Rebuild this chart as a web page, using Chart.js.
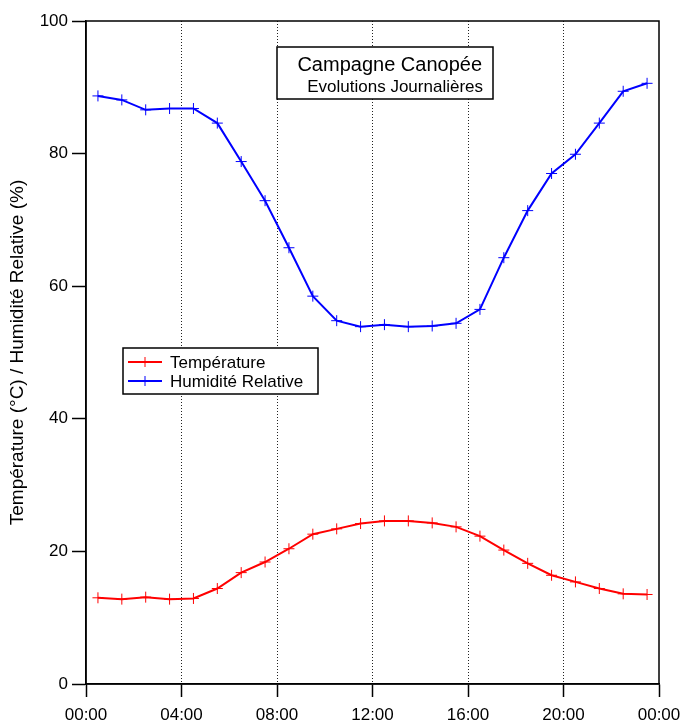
<!DOCTYPE html>
<html>
<head>
<meta charset="utf-8">
<script src="https://cdn.jsdelivr.net/npm/chart.js@4"></script>
<style>
  html, body { margin: 0; padding: 0; background: #fff; }
  #wrap { width: 682px; height: 722px; }
</style>
</head>
<body>
<div id="wrap"><canvas id="chart" width="682" height="722"></canvas></div>
<script>
// ---- data ----
const hours = [0.5, 1.5, 2.5, 3.5, 4.5, 5.5, 6.5, 7.5, 8.5, 9.5, 10.5, 11.5,
               12.5, 13.5, 14.5, 15.5, 16.5, 17.5, 18.5, 19.5, 20.5, 21.5, 22.5, 23.5];
const temperature = [13.0, 12.8, 13.1, 12.8, 12.9, 14.4, 16.8, 18.4, 20.4, 22.6, 23.4, 24.2,
                     24.6, 24.6, 24.3, 23.7, 22.3, 20.2, 18.2, 16.4, 15.4, 14.4, 13.6, 13.5];
const humidity = [88.7, 88.1, 86.6, 86.8, 86.8, 84.6, 78.8, 72.9, 65.8, 58.5, 54.8, 53.9,
                  54.2, 53.9, 54.0, 54.4, 56.5, 64.3, 71.4, 77.0, 79.9, 84.6, 89.4, 90.6];
const seriesLabels = ['Température', 'Humidité Relative'];
const seriesColors = ['#ff0000', '#0000ff'];
const titleLines = ['Campagne Canopée', 'Evolutions Journalières'];
const yAxisTitle = 'Température (°C) / Humidité Relative (%)';

const FONT = '"Liberation Sans", Arial, sans-serif';

const toPoints = vals => vals.map((v, i) => ({ x: hours[i], y: v }));

// frame around the plot area
const framePlugin = {
  id: 'frame',
  afterDraw(chart) {
    const { ctx, chartArea: a } = chart;
    ctx.save();
    ctx.strokeStyle = '#000';
    ctx.lineWidth = 1.5;
    ctx.strokeRect(a.left, a.top, a.right - a.left, a.bottom - a.top);
    ctx.restore();
  }
};

// title box + legend box inside the plot
const boxesPlugin = {
  id: 'boxes',
  afterDatasetsDraw(chart) {
    const ctx = chart.ctx;
    ctx.save();

    // title box
    ctx.fillStyle = '#fff';
    ctx.fillRect(277, 47, 216, 52);
    ctx.strokeStyle = '#000';
    ctx.lineWidth = 1.5;
    ctx.strokeRect(277, 47, 216, 52);
    ctx.fillStyle = '#000';
    ctx.textAlign = 'right';
    ctx.textBaseline = 'middle';
    ctx.font = '20px ' + FONT;
    ctx.fillText(titleLines[0], 482, 65);
    ctx.font = '17px ' + FONT;
    ctx.fillText(titleLines[1], 483, 87);

    // legend box
    ctx.fillStyle = '#fff';
    ctx.fillRect(123, 348, 195, 46);
    ctx.strokeRect(123, 348, 195, 46);
    ctx.font = '17px ' + FONT;
    ctx.textAlign = 'left';
    chart.data.datasets.forEach((ds, i) => {
      const y = 362 + i * 19;
      ctx.strokeStyle = ds.borderColor;
      ctx.lineWidth = 2;
      ctx.beginPath();
      ctx.moveTo(128, y); ctx.lineTo(162, y);
      ctx.stroke();
      ctx.lineWidth = 1;
      ctx.beginPath();
      ctx.moveTo(145, y - 5); ctx.lineTo(145, y + 5);
      ctx.stroke();
      ctx.fillStyle = '#000';
      ctx.fillText(ds.label, 170, y + 1);
    });
    ctx.restore();
  }
};

const data = {
  datasets: [
    {
      label: seriesLabels[0],
      data: toPoints(temperature),
      borderColor: seriesColors[0],
      backgroundColor: seriesColors[0],
      borderWidth: 2,
      pointStyle: 'cross',
      pointRadius: 5.5,
      pointBorderWidth: 1,
      tension: 0
    },
    {
      label: seriesLabels[1],
      data: toPoints(humidity),
      borderColor: seriesColors[1],
      backgroundColor: seriesColors[1],
      borderWidth: 2,
      pointStyle: 'cross',
      pointRadius: 5.5,
      pointBorderWidth: 1,
      tension: 0
    }
  ]
};

const options = {
  responsive: false,
  animation: false,
  layout: { padding: { top: 21, right: 23, bottom: 0, left: 0 } },
  plugins: {
    legend: { display: false },
    tooltip: { enabled: false }
  },
  scales: {
    x: {
      type: 'linear',
      min: 0,
      max: 24,
      afterFit: s => { s.height = 38; s.paddingLeft = 0; s.paddingRight = 0; },
      ticks: {
        stepSize: 4,
        color: '#000',
        padding: 8,
        maxRotation: 0,
        font: { family: FONT, size: 17 },
        callback: v => String(v % 24).padStart(2, '0') + ':00'
      },
      grid: {
        color: c => (c.tick && c.tick.value % 24 === 0) ? 'rgba(0,0,0,0)' : '#222',
        lineWidth: 1,
        tickColor: '#000',
        tickWidth: 1.5,
        tickLength: 13
      },
      border: { display: true, color: '#000', width: 1.5, dash: [1, 2] }
    },
    y: {
      min: 0,
      max: 100,
      afterFit: s => { s.width = 86; },
      ticks: {
        stepSize: 20,
        color: '#000',
        padding: 4,
        font: { family: FONT, size: 17 }
      },
      grid: {
        drawOnChartArea: false,
        tickColor: '#000',
        tickWidth: 1.5,
        tickLength: 14
      },
      border: { display: true, color: '#000', width: 1.5 },
      title: {
        display: true,
        text: yAxisTitle,
        color: '#000',
        padding: { top: 6, bottom: 0 },
        font: { family: FONT, size: 19 }
      }
    }
  }
};

new Chart(document.getElementById('chart'), {
  type: 'line',
  data,
  options,
  plugins: [framePlugin, boxesPlugin]
});
</script>
</body>
</html>
